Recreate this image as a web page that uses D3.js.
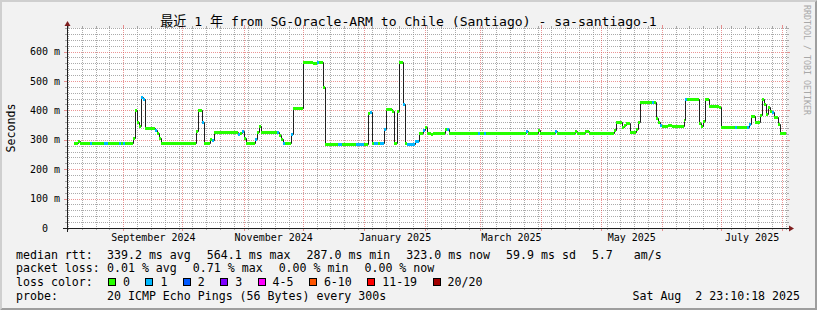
<!DOCTYPE html>
<html>
<head>
<meta charset="utf-8">
<script src="https://cdn.jsdelivr.net/npm/d3@7"></script>
<style>
  body { margin: 0; background: #f2f2f2; }
  svg text { font-family: "DejaVu Sans Mono", "Noto Sans CJK SC", monospace; fill: #000; white-space: pre; }
</style>
</head>
<body>
<div id="chart"></div>
<script>
// median rtt, one entry per change: start day, value in ms, lost pings (of 20)
const segStart = [
  "2024-08-07","2024-08-09","2024-08-10","2024-08-15","2024-08-16","2024-08-22","2024-08-24","2024-08-30",
  "2024-08-31","2024-09-01","2024-09-02","2024-09-06","2024-09-07","2024-09-08","2024-09-09","2024-09-10",
  "2024-09-11","2024-09-12","2024-09-17","2024-09-18","2024-09-19","2024-09-20","2024-10-08","2024-10-09",
  "2024-10-11","2024-10-12","2024-10-15","2024-10-16","2024-10-17","2024-10-22","2024-10-23","2024-10-29",
  "2024-10-30","2024-10-31","2024-11-01","2024-11-02","2024-11-07","2024-11-08","2024-11-09","2024-11-10",
  "2024-11-18","2024-11-19","2024-11-20","2024-11-21","2024-11-22","2024-11-25","2024-11-26","2024-12-01",
  "2024-12-06","2024-12-08","2024-12-09","2024-12-11","2024-12-12","2024-12-19","2024-12-21","2024-12-28",
  "2025-01-01","2025-01-03","2025-01-04","2025-01-05","2025-01-06","2025-01-08","2025-01-09","2025-01-11",
  "2025-01-12","2025-01-15","2025-01-16","2025-01-18","2025-01-19","2025-01-21","2025-01-22","2025-01-23",
  "2025-01-27","2025-01-29","2025-01-31","2025-02-01","2025-02-02","2025-02-04","2025-02-05","2025-02-11",
  "2025-02-12","2025-02-13","2025-02-28","2025-03-01","2025-03-03","2025-03-04","2025-03-24","2025-03-25",
  "2025-03-30","2025-03-31","2025-04-08","2025-04-09","2025-04-18","2025-04-19","2025-04-23","2025-04-25",
  "2025-05-08","2025-05-09","2025-05-12","2025-05-13","2025-05-14","2025-05-16","2025-05-19","2025-05-20",
  "2025-05-21","2025-05-27","2025-05-28","2025-05-29","2025-05-30","2025-05-31","2025-06-01","2025-06-04",
  "2025-06-06","2025-06-12","2025-06-13","2025-06-14","2025-06-20","2025-06-21","2025-06-22","2025-06-23",
  "2025-06-25","2025-06-30","2025-07-01","2025-07-08","2025-07-09","2025-07-14","2025-07-15","2025-07-16",
  "2025-07-18","2025-07-21","2025-07-22","2025-07-23","2025-07-24","2025-07-25","2025-07-26","2025-07-27",
  "2025-07-28","2025-07-30","2025-07-31"
];
const segRtt = [
  288,297,288,288,288,288,288,288,
  288,288,288,305,401,361,347,446,
  437,341,333,324,306,288,330,400,
  361,288,301,300,325,327,325,321,
  324,331,305,288,301,327,347,325,
  325,316,304,288,288,319,407,564,
  561,564,564,480,287,287,287,287,
  287,390,395,288,288,288,288,336,
  403,397,288,398,564,421,288,287,
  297,324,333,344,324,319,324,335,
  337,324,324,324,324,324,331,324,
  333,324,329,324,329,324,330,324,
  333,362,344,351,356,325,336,359,
  427,427,427,373,361,350,348,351,
  348,367,437,437,356,347,363,438,
  416,410,345,345,345,345,353,380,
  361,385,437,423,387,410,398,393,
  378,353,324
];
const segLoss = [
  0,0,0,1,0,1,0,1,
  0,1,0,0,0,0,0,1,
  1,0,1,0,0,0,0,0,
  1,0,0,1,0,0,0,1,
  0,1,0,0,1,0,0,0,
  1,0,0,1,0,1,0,0,
  0,1,0,0,0,1,0,1,
  0,0,1,0,1,0,1,1,
  0,0,0,0,0,1,0,1,
  1,0,1,0,0,0,0,0,
  1,0,1,0,1,0,1,0,
  0,0,1,0,0,0,0,0,
  0,0,0,0,0,0,0,0,
  0,1,0,0,0,1,0,0,
  0,0,1,0,0,0,0,0,
  0,0,0,1,0,1,1,0,
  0,0,0,0,0,0,0,1,
  0,0,0
];
const dataEnd = "2025-08-02 19:00";
const rangeStart = "2024-08-03 11:00";
const rangeEnd = "2025-08-03 11:00";

// tick labels
const yTicks = [0, 100, 200, 300, 400, 500, 600];
const monthTicks = ["2024-09", "2024-11", "2025-01", "2025-03", "2025-05", "2025-07"];

// legend texts
const title = "最近 1 年 from SG-Oracle-ARM to Chile (Santiago) - sa-santiago-1";
const rttStats = ["339.2 ms avg", "564.1 ms max", "287.0 ms min", "323.0 ms now", "59.9 ms sd", "5.7   am/s"];
const lossStats = ["0.01 % avg", "0.71 % max", "0.00 % min", "0.00 % now"];
const lossLabels = ["0", "1", "2", "3", "4-5", "6-10", "11-19", "20/20"];
const probeText = "20 ICMP Echo Pings (56 Bytes) every 300s";
const stamp = "Sat Aug  2 23:10:18 2025";

const lossColors = ["#26ff00", "#00b8ff", "#0059ff", "#7e00ff", "#ff00ff", "#ff5500", "#ff0000", "#a10000"];

const W = 817, H = 310;
const margin = { left: 67, top: 28, right: 30, bottom: 82 };
const x0 = margin.left, x1 = W - margin.right;
const y0 = H - margin.bottom, y1 = margin.top;

const parseDay = d3.timeParse("%Y-%m-%d");
const parseTime = d3.timeParse("%Y-%m-%d %H:%M");
const parseMonth = d3.timeParse("%Y-%m");

const gridCol = "rgba(143,143,143,0.75)";
const mgridCol = "rgba(222,79,79,0.6)";

const svg = d3.select("#chart").append("svg")
  .attr("width", W)
  .attr("height", H);

// background + 3d border
svg.append("rect").attr("width", W).attr("height", H).attr("fill", "#f2f2f2");
svg.append("path").attr("fill", "#cfcfcf")
  .attr("d", `M0,0H${W}L${W - 2},2H2V${H - 2}L0,${H}Z`);
svg.append("path").attr("fill", "#9e9e9e")
  .attr("d", `M${W},${H}H0L2,${H - 2}H${W - 2}V2L${W},0Z`);

const x = d3.scaleTime()
  .domain([parseTime(rangeStart), parseTime(rangeEnd)])
  .range([x0, x1]);
const y = d3.scaleLinear().domain([0, 680]).range([y0, y1]);

// canvas
svg.append("rect")
  .attr("x", x0).attr("y", y1)
  .attr("width", x1 - x0).attr("height", y0 - y1)
  .attr("fill", "#fff");

const gGrid = svg.append("g").attr("stroke-width", 1).attr("shape-rendering", "crispEdges");

function hGrid(v, col, t) {
  const yy = Math.round(y(v)) + 0.5;
  gGrid.append("line").attr("x1", x0).attr("x2", x1).attr("y1", yy).attr("y2", yy)
    .attr("stroke", col).attr("stroke-dasharray", "1,1");
  gGrid.append("line").attr("x1", x0 - t).attr("x2", x0).attr("y1", yy).attr("y2", yy).attr("stroke", col);
  gGrid.append("line").attr("x1", x1).attr("x2", x1 + t).attr("y1", yy).attr("y2", yy).attr("stroke", col);
}
function vGrid(d, col, t) {
  const xx = Math.round(x(d)) + 0.5;
  gGrid.append("line").attr("x1", xx).attr("x2", xx).attr("y1", y1).attr("y2", y0)
    .attr("stroke", col).attr("stroke-dasharray", "1,1");
  gGrid.append("line").attr("x1", xx).attr("x2", xx).attr("y1", y0).attr("y2", y0 + t).attr("stroke", col);
  gGrid.append("line").attr("x1", xx).attr("x2", xx).attr("y1", y1 - t).attr("y2", y1).attr("stroke", col);
}

// minor grid: 20 ms, weeks
d3.range(20, 681, 20).filter(v => v % 100).forEach(v => hGrid(v, gridCol, 2));
const months = d3.timeMonth.range(x.domain()[0], x.domain()[1]);
d3.timeSunday.range(x.domain()[0], x.domain()[1])
  .filter(d => d.getDate() !== 1)
  .forEach(d => vGrid(d, gridCol, 2));
// major grid: 100 ms, months
yTicks.filter(v => v > 0).forEach(v => hGrid(v, mgridCol, 3));
months.forEach(d => vGrid(d, mgridCol, 3));

// median line (black) then loss colour bands on top
const pts = segStart.map((d, i) => [parseDay(d), segRtt[i]]);
pts.push([parseTime(dataEnd), segRtt[segRtt.length - 1]]);

svg.append("path")
  .datum(pts)
  .attr("fill", "none")
  .attr("stroke", "#202020")
  .attr("stroke-width", 1)
  .attr("d", d3.line()
    .x(d => Math.round(x(d[0])) + 0.5)
    .y(d => Math.round(y(d[1])) + 0.5)
    .curve(d3.curveStepAfter));

svg.append("g")
  .attr("shape-rendering", "crispEdges")
  .selectAll("rect")
  .data(segStart.map((d, i) => i))
  .enter().append("rect")
  .attr("x", i => Math.round(x(pts[i][0])))
  .attr("width", i => Math.max(1, Math.round(x(pts[i + 1][0])) - Math.round(x(pts[i][0]))))
  .attr("y", i => Math.round(y(segRtt[i])) - 1)
  .attr("height", 3)
  .attr("fill", i => lossColors[segLoss[i]]);

// axes labels
const gy = svg.append("g")
  .attr("transform", `translate(${x0},0)`)
  .call(d3.axisLeft(y).tickValues(yTicks).tickSize(0).tickPadding(7)
    .tickFormat(d => d === 0 ? "0" : `${d} m`));
gy.select(".domain").remove();
gy.attr("font-family", null).attr("font-size", 10);
gy.selectAll("text").attr("fill", "#000").attr("dx", d => d === 0 ? -12 : 0);

const gx = svg.append("g")
  .attr("transform", `translate(0,${y0})`)
  .call(d3.axisBottom(x)
    .tickValues(monthTicks.map(m => {
      const a = parseMonth(m);
      return new Date((a.getTime() + d3.timeMonth.offset(a, 1).getTime()) / 2);
    }))
    .tickSize(0).tickPadding(6)
    .tickFormat(d3.timeFormat("%B %Y")));
gx.select(".domain").remove();
gx.attr("font-family", null).attr("font-size", 10);
gx.selectAll("text").attr("fill", "#000");

// axis lines with arrows
const axisCol = "#1f1f1f", arrowCol = "#7f1f1f";
svg.append("line").attr("x1", x0 - 4).attr("x2", x1 + 4).attr("y1", y0 + 0.5).attr("y2", y0 + 0.5)
  .attr("stroke", axisCol).attr("shape-rendering", "crispEdges");
svg.append("line").attr("x1", x0 + 0.5).attr("x2", x0 + 0.5).attr("y1", y0 + 4).attr("y2", y1 - 4)
  .attr("stroke", axisCol).attr("shape-rendering", "crispEdges");
svg.append("path").attr("fill", arrowCol)
  .attr("d", `M${x1 + 2},${y0 - 2.5}V${y0 + 3.5}L${x1 + 7},${y0 + 0.5}Z`);
svg.append("path").attr("fill", arrowCol)
  .attr("d", `M${x0 - 2.5},${y1 - 2}H${x0 + 3.5}L${x0 + 0.5},${y1 - 7}Z`);

// title, unit, watermark
svg.append("text").attr("x", W / 2).attr("y", 26)
  .attr("text-anchor", "middle").attr("font-size", 13.1).text(title);
svg.append("text").attr("transform", "translate(14.5,128) rotate(-90)")
  .attr("text-anchor", "middle").attr("font-size", 11.6).text("Seconds");
svg.append("text").attr("transform", "translate(803.5,5) rotate(90)")
  .attr("font-size", 8.3).style("fill", "#a8a8a8").text("RRDTOOL / TOBI OETIKER");

// legend
const lx = 16, col2 = 107, fs = 11.6;
const rows = [258.5, 272.3, 286.1, 299.9];

function statRow(label, items, yy) {
  svg.append("text").attr("x", lx).attr("y", yy).attr("font-size", fs).text(label);
  let cx = col2;
  items.forEach(s => {
    const t = svg.append("text").attr("x", cx).attr("y", yy).attr("font-size", fs).text(s);
    cx += t.node().getComputedTextLength() + 16;
  });
}
statRow("median rtt:", rttStats, rows[0]);
statRow("packet loss:", lossStats, rows[1]);

svg.append("text").attr("x", lx).attr("y", rows[2]).attr("font-size", fs).text("loss color:");
let bx = col2 + 1;
lossLabels.forEach((l, i) => {
  svg.append("rect")
    .attr("x", bx + 0.5).attr("y", rows[2] - 7.5)
    .attr("width", 7).attr("height", 7)
    .attr("fill", lossColors[i]).attr("stroke", "#000")
    .attr("shape-rendering", "crispEdges");
  const t = svg.append("text").attr("x", bx + 15).attr("y", rows[2]).attr("font-size", fs).text(l);
  bx += 15 + t.node().getComputedTextLength() + 15.4;
});

svg.append("text").attr("x", lx).attr("y", rows[3]).attr("font-size", fs).text("probe:");
svg.append("text").attr("x", col2).attr("y", rows[3]).attr("font-size", fs).text(probeText);
svg.append("text").attr("x", 800).attr("y", rows[3]).attr("font-size", fs)
  .attr("text-anchor", "end").text(stamp);
</script>
</body>
</html>
